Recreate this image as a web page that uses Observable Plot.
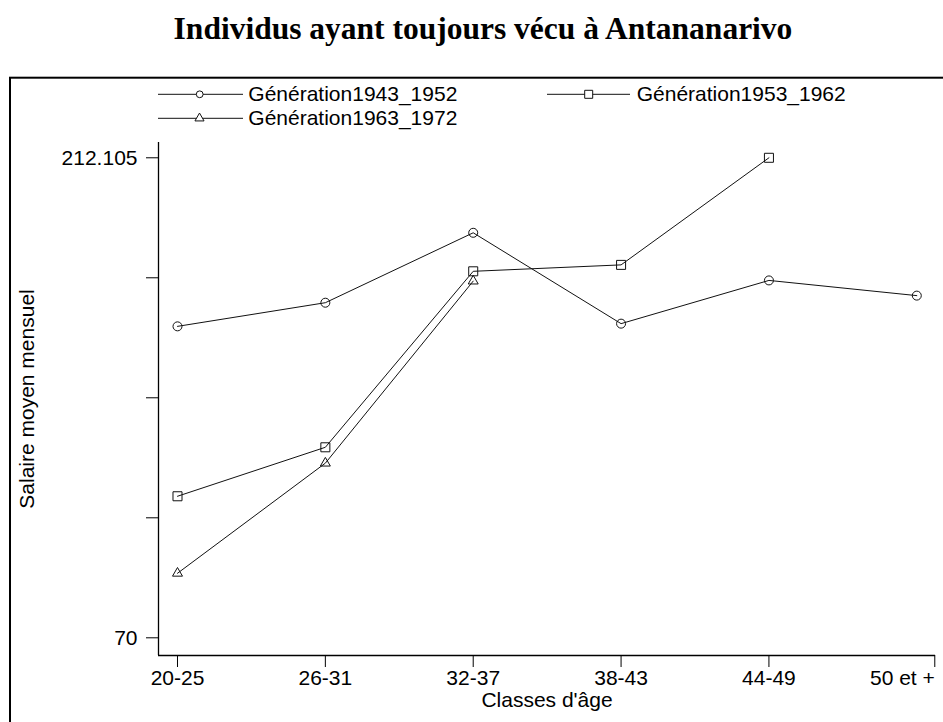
<!DOCTYPE html>
<html>
<head>
<meta charset="utf-8">
<script src="https://cdn.jsdelivr.net/npm/d3@7"></script>
<script src="https://cdn.jsdelivr.net/npm/@observablehq/plot@0.6"></script>
<style>
html, body { margin: 0; padding: 0; background: #fff; overflow: hidden; }
#wrap { position: relative; width: 943px; height: 722px; overflow: hidden; background: #fff; }
#wrap > svg { position: absolute; left: 0; top: 0; }
#overlay { z-index: 2; pointer-events: none; }
</style>
</head>
<body>
<div id="wrap"></div>
<script>
// ---- Data ----
const ages = ["20-25", "26-31", "32-37", "38-43", "44-49", "50 et +"];
const seriesNames = ["Génération1943_1952", "Génération1953_1962", "Génération1963_1972"];
const g1943 = [162.2, 169.2, 189.9, 163.0, 175.8, 171.3];
const g1953 = [111.9, 126.4, 178.5, 180.4, 212.105];
const g1963 = [89.1, 121.7, 175.6];
const yTicks = [70, 105.526, 141.053, 176.579, 212.105];
const yTickLabels = ["70", "", "", "", "212.105"];
const titleText = "Individus ayant toujours vécu à Antananarivo";
const yLabel = "Salaire moyen mensuel";
const xLabel = "Classes d'âge";

// ---- Build table ----
const rows = [];
[g1943, g1953, g1963].forEach((vals, s) =>
  vals.forEach((v, i) => rows.push({ series: seriesNames[s], i, age: ages[i], value: v }))
);
const yLabelMap = new Map(yTicks.map((t, k) => [t, yTickLabels[k]]));
const xDomain = [-0.1285, 5.1265];
const yDomain = [64.76, 216.63];
const font = "'Liberation Sans', Arial, Helvetica, sans-serif";
const lastIdx = ages.length - 1;

const bySeries = (k) => rows.filter(d => d.series === seriesNames[k]);

const chart = Plot.plot({
  width: 943,
  height: 722,
  marginTop: 142,
  marginBottom: 67,
  marginLeft: 158,
  marginRight: 8,
  style: { fontFamily: font, fontSize: "21px", color: "#000", background: "transparent", overflow: "visible" },
  x: { domain: xDomain, label: null },
  y: { domain: yDomain, label: null },
  marks: [
    Plot.axisX({ ticks: d3.range(lastIdx), tickFormat: i => ages[i], tickSize: 12, tickPadding: 3, fontSize: 21, label: null }),
    Plot.axisX({ ticks: [lastIdx], tickFormat: i => ages[i], tickSize: 12, tickPadding: 3, fontSize: 21, textAnchor: "end", dx: 18, label: null }),
    Plot.axisY({ ticks: yTicks, tickFormat: d => yLabelMap.get(d) ?? "", tickSize: 12, tickPadding: 9, fontSize: 21, label: null }),
    Plot.ruleY([yDomain[0]], { stroke: "#000", strokeWidth: 1.3 }),
    Plot.ruleX([xDomain[0]], { stroke: "#000", strokeWidth: 1.3 }),
    Plot.line(rows, { x: "i", y: "value", z: "series", stroke: "#111", strokeWidth: 1 }),
    Plot.dot(bySeries(0), { x: "i", y: "value", symbol: "circle", r: 4.5, stroke: "#111", fill: "none", strokeWidth: 1 }),
    Plot.dot(bySeries(1), { x: "i", y: "value", symbol: "square", r: 5.08, stroke: "#111", fill: "none", strokeWidth: 1 }),
    Plot.dot(bySeries(2), { x: "i", y: "value", symbol: "triangle", r: 3.71, stroke: "#111", fill: "none", strokeWidth: 1 }),
    Plot.text([yLabel], { frameAnchor: "left", dx: -131, rotate: -90, textAnchor: "middle", lineAnchor: "middle", fontSize: 21, fill: "#000" }),
    Plot.text([xLabel], { frameAnchor: "bottom", dy: 45, textAnchor: "middle", lineAnchor: "middle", fontSize: 21, fill: "#000" })
  ]
});
const wrap = document.getElementById("wrap");
wrap.appendChild(chart);

// ---- Overlay: title, outer frame, legend ----
const ov = d3.select(wrap).append("svg")
  .attr("id", "overlay")
  .attr("width", 943).attr("height", 722);

ov.append("text")
  .attr("x", 483).attr("y", 39)
  .attr("text-anchor", "middle")
  .attr("font-family", "'Liberation Serif', 'Times New Roman', serif")
  .attr("font-weight", "bold")
  .attr("font-size", 31.5)
  .attr("fill", "#000")
  .text(titleText);

ov.append("rect")
  .attr("x", 10).attr("y", 77.7)
  .attr("width", 1000).attr("height", 1000)
  .attr("fill", "none").attr("stroke", "#000").attr("stroke-width", 2);

const legendItems = [
  { name: seriesNames[0], x0: 158, x1: 243, sx: 199.7, tx: 248.3, ly: 94.3, ty: 101, sym: "circle" },
  { name: seriesNames[1], x0: 547, x1: 630, sx: 588.7, tx: 636.7, ly: 94.3, ty: 101, sym: "square" },
  { name: seriesNames[2], x0: 158, x1: 243, sx: 199.5, tx: 248.3, ly: 118.3, ty: 124.5, sym: "triangle" }
];
legendItems.forEach(it => {
  const g = ov.append("g");
  g.append("line").attr("x1", it.x0).attr("x2", it.x1).attr("y1", it.ly).attr("y2", it.ly)
    .attr("stroke", "#111").attr("stroke-width", 1);
  let sym;
  if (it.sym === "circle") sym = d3.symbol(d3.symbolCircle, Math.PI * 3.4 * 3.4);
  else if (it.sym === "square") sym = d3.symbol(d3.symbolSquare, 8 * 8);
  else sym = d3.symbol(d3.symbolTriangle, 36);
  g.append("path").attr("d", sym()).attr("transform", `translate(${it.sx},${it.ly})`)
    .attr("fill", "#fff").attr("stroke", "#111").attr("stroke-width", 1);
  g.append("text").attr("x", it.tx).attr("y", it.ty)
    .attr("font-family", font).attr("font-size", 21).attr("fill", "#000")
    .text(it.name);
});
</script>
</body>
</html>
